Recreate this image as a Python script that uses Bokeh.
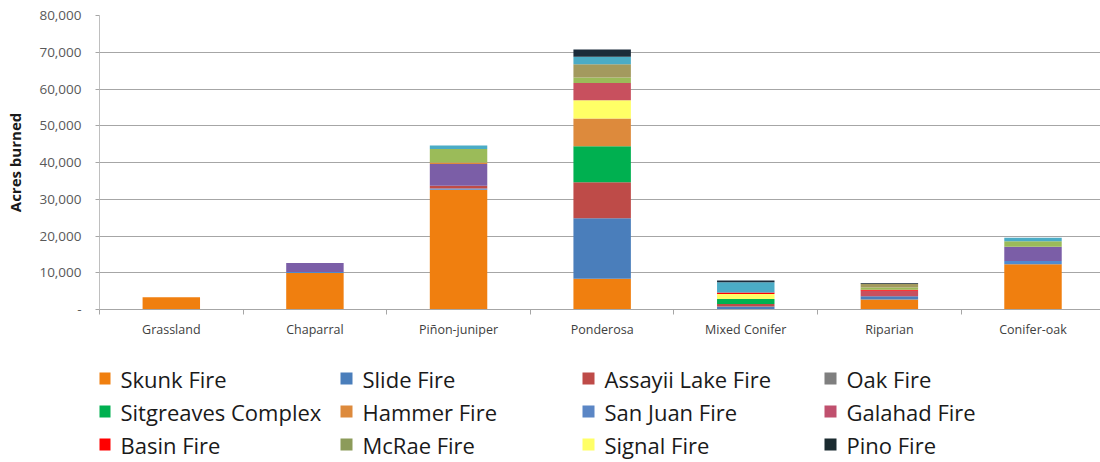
from bokeh.plotting import figure
from bokeh.models import FixedTicker, Range1d, ColumnDataSource, CustomJSTickFormatter
from bokeh.layouts import column
from bokeh.embed import file_html
from bokeh.resources import INLINE
from bokeh.core.properties import value

# ---------------- data ----------------
categories = ["Grassland", "Chaparral", "Piñon-juniper", "Ponderosa",
              "Mixed Conifer", "Riparian", "Conifer-oak"]

# series in stacking order (bottom -> top), acres burned per vegetation type
skunk_fire      = [3300, 9900, 32600, 8350,    0, 2700, 12300]
slide_fire      = [   0,    0,     0, 16500, 800,  900,     0]
san_juan_fire   = [   0,  300,   300,    0,    0,    0,   900]
assayii_fire    = [   0,    0,   800, 9800,  700,    0,     0]
oak_fire        = [   0,    0,     0,    0,    0,    0,     0]
other_a         = [   0, 2450,  5900,    0,    0,    0,  3900]
sitgreaves      = [   0,    0,     0, 9800, 1350,    0,     0]
hammer_fire     = [   0,    0,   400, 7500,    0,    0,     0]
signal_fire     = [   0,    0,     0, 5000, 1350,    0,     0]
galahad_fire    = [   0,    0,     0, 4700,    0, 1500,     0]
basin_fire      = [   0,    0,     0,    0,  450,  300,     0]
other_b         = [   0,    0,  3700, 1500,    0,  600,  1500]
mcrae_fire      = [   0,    0,     0, 3600,    0, 1000,     0]
other_c         = [   0,    0,   900, 2000, 2750,    0,   900]
pino_fire       = [   0,    0,     0, 2000,  500,  200,     0]

series_names = ["Skunk Fire", "Slide Fire", "San Juan Fire", "Assayii Lake Fire",
                "Oak Fire", "Other A", "Sitgreaves Complex", "Hammer Fire",
                "Signal Fire", "Galahad Fire", "Basin Fire", "Other B",
                "McRae Fire", "Other C", "Pino Fire"]
series_values = [skunk_fire, slide_fire, san_juan_fire, assayii_fire, oak_fire,
                 other_a, sitgreaves, hammer_fire, signal_fire, galahad_fire,
                 basin_fire, other_b, mcrae_fire, other_c, pino_fire]
series_colors = ["#F07F0F", "#4A7EBB", "#4F8AD0", "#BE4B48", "#7F7F7F",
                 "#7B5EA7", "#00B050", "#DD8A3C", "#FFFF66", "#C8505E",
                 "#FF0000", "#9BBB59", "#A39A5E", "#4BACC6", "#1B2B3A"]

# legend entries (row-wise, 4 columns), as in the reference
legend_names = ["Skunk Fire", "Slide Fire", "Assayii Lake Fire", "Oak Fire",
                "Sitgreaves Complex", "Hammer Fire", "San Juan Fire", "Galahad Fire",
                "Basin Fire", "McRae Fire", "Signal Fire", "Pino Fire"]
legend_colors_override = {"San Juan Fire": "#5B86C5", "McRae Fire": "#8C9B5A",
                          "Galahad Fire": "#C0506E", "Pino Fire": "#1B2B30"}

y_ticks = list(range(0, 80001, 10000))

FONT = "Open Sans"

# ---------------- main chart ----------------
x_pos = [i + 0.5 for i in range(len(categories))]
keys = ["s%d" % i for i in range(len(series_names))]
data = {"x": x_pos}
for k, vals in zip(keys, series_values):
    data[k] = vals
source = ColumnDataSource(data)

p = figure(width=1100, height=350, x_range=Range1d(0, 6.97), y_range=Range1d(0, 80000),
           output_backend="svg", toolbar_location=None,
           min_border_left=99, min_border_right=0, min_border_top=15, min_border_bottom=41)
p.outline_line_color = None
p.background_fill_color = "white"
p.border_fill_color = "white"

p.vbar_stack(keys, x="x", width=0.4, fill_color=series_colors, line_color=None,
             source=source)

grid_col = "#A6A6A6"
p.xgrid.grid_line_color = None
p.ygrid.grid_line_color = grid_col
p.ygrid.ticker = FixedTicker(ticks=y_ticks)

# y axis
p.yaxis.ticker = FixedTicker(ticks=y_ticks, minor_ticks=[])
p.yaxis.formatter = CustomJSTickFormatter(
    code="return tick == 0 ? '-' : Math.round(tick).toLocaleString('en-US');")
p.yaxis.axis_line_color = "#BFBFBF"
p.yaxis.major_tick_line_color = grid_col
p.yaxis.major_tick_out = 4
p.yaxis.major_tick_in = 0
p.yaxis.minor_tick_line_color = None
p.yaxis.major_label_standoff = 14
p.yaxis.major_label_text_font = FONT
p.yaxis.major_label_text_font_size = "13.5px"
p.yaxis.major_label_text_color = "#595959"
p.yaxis.axis_label = "Acres burned"
p.yaxis.axis_label_text_font = FONT
p.yaxis.axis_label_text_font_size = "15px"
p.yaxis.axis_label_text_font_style = "bold"
p.yaxis.axis_label_text_color = "#1A1A1A"
p.yaxis.axis_label_standoff = 11

# x axis
p.xaxis.ticker = FixedTicker(ticks=x_pos, minor_ticks=list(range(len(categories) + 1)))
p.xaxis.formatter = CustomJSTickFormatter(args=dict(cats=categories),
                                          code="return cats[Math.floor(tick)] || '';")
p.xaxis.axis_line_color = grid_col
p.xaxis.major_tick_line_color = None
p.xaxis.major_tick_out = 0
p.xaxis.major_tick_in = 0
p.xaxis.minor_tick_line_color = grid_col
p.xaxis.minor_tick_out = 5
p.xaxis.minor_tick_in = 0
p.xaxis.major_label_standoff = 6
p.xaxis.major_label_text_font = FONT
p.xaxis.major_label_text_font_size = "12.5px"
p.xaxis.major_label_text_color = "#404040"

# ---------------- legend (own canvas, pixel coordinates) ----------------
# the column layout aligns this frame with the chart frame (x from 99 to 1100)
lg = figure(width=1100, height=112, x_range=Range1d(99, 1100), y_range=Range1d(462, 350),
            output_backend="svg", toolbar_location=None,
            min_border=0, min_border_left=99, min_border_right=0,
            x_axis_location=None, y_axis_location=None)
lg.outline_line_color = None
lg.xgrid.grid_line_color = None
lg.ygrid.grid_line_color = None

color_of = dict(zip(series_names, series_colors))
sq_x, sq_y, sq_c, tx_x, tx_y, tx_t = [], [], [], [], [], []
for i, name in enumerate(legend_names):
    col, row = i % 4, i // 4
    cx = 104 + col * 242
    cy = 378 + row * 33
    sq_x.append(cx)
    sq_y.append(cy)
    sq_c.append(legend_colors_override.get(name, color_of[name]))
    tx_x.append(cx + 16)
    tx_y.append(cy)
    tx_t.append(name)

lg.rect(x=sq_x, y=sq_y, width=12, height=12, fill_color=sq_c, line_color=None)
lg.text(x=tx_x, y=tx_y, text=tx_t, text_font=value(FONT), text_font_size="22px",
        text_baseline="middle", text_align="left", text_color="#1A1A1A")

layout = column(p, lg, spacing=0)
open("out.html", "w").write(file_html(layout, INLINE))
